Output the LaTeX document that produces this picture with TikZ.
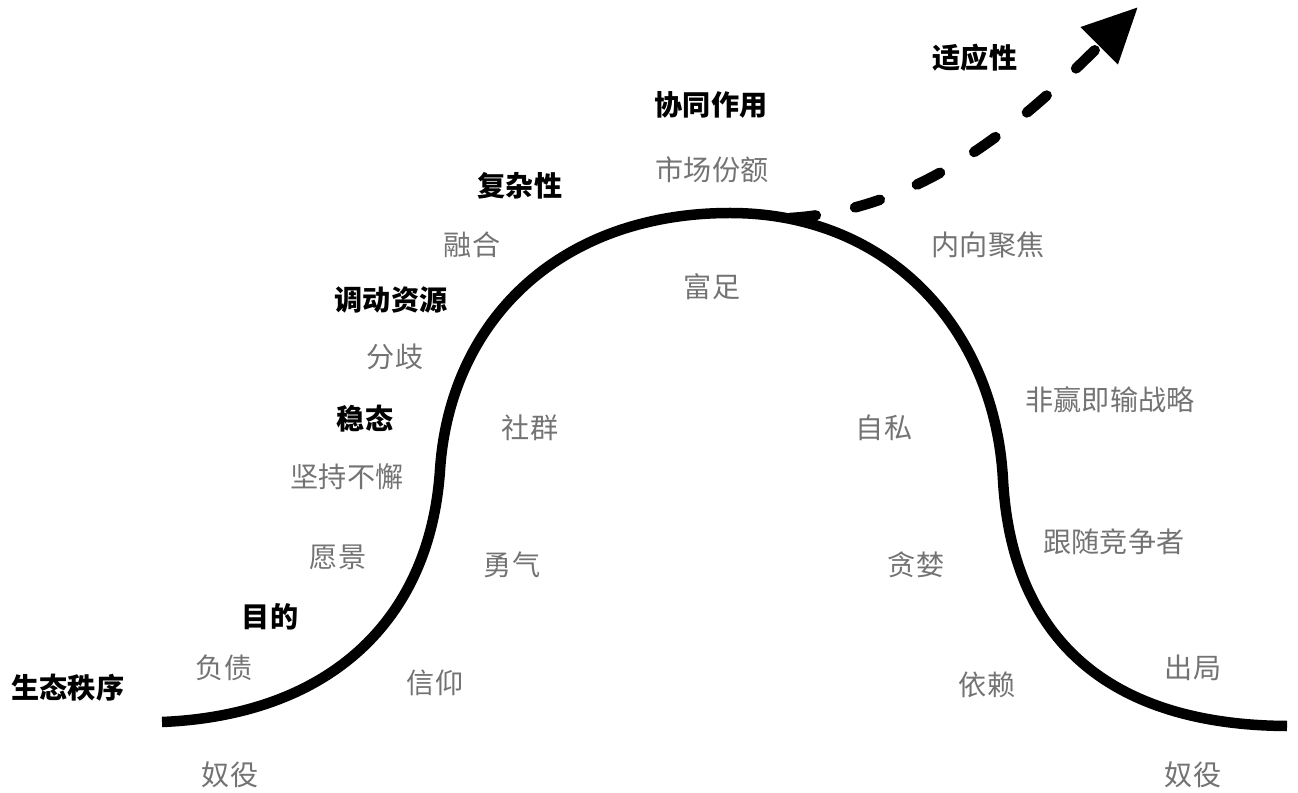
\documentclass[tikz,border=0pt]{standalone}
\usepackage{fontspec}
\newfontfamily\cjk{Noto Sans CJK SC}
\usepackage{xcolor}
\usetikzlibrary{arrows.meta}
\definecolor{traitgray}{gray}{0.45}
\tikzset{
  phaselabel/.style={
    font=\cjk\fontsize{16}{18}\selectfont\bfseries, text=black, inner sep=0pt
  },
  traitlabel/.style={
    font=\cjk\fontsize{16}{18}\selectfont, text=traitgray, inner sep=0pt
  },
  lifecurve/.style={line width=0.21cm},
  adaptarrow/.style={
    line width=0.21cm, line cap=round, dash pattern=on 0.52cm off 0.8cm,
    -{Triangle[length=1.1cm, width=1.0cm]}
  },
}

\begin{document}
\begin{tikzpicture}[x=0.02cm, y=-0.02cm]
  \useasboundingbox (0,0) rectangle (1298,793);

  % Curve points
  \coordinate (rise0) at (162,722);
  \coordinate (rise1) at (440,470);
  \coordinate (crest) at (730,213);
  \coordinate (fall1) at (1003,480);
  \coordinate (fall0) at (1287,726);
  \coordinate (branch) at (790,218);
  \coordinate (adapttip) at (1138,7);

  % Life cycle curve
  \draw[lifecurve] (rise0) .. controls (330,715) and (430,620) .. (rise1)
    .. controls (450,320) and (560,213) .. (crest)
    .. controls (890,213) and (995,330) .. (fall1)
    .. controls (1012,640) and (1110,725) .. (fall0);

  % Adaptation branch
  \draw[adaptarrow] (branch) .. controls (920,210) and (1018,127) .. (adapttip);

  % Phases
  \node[phaselabel] (order) at (68,688) {生态秩序};
  \node[phaselabel] (purpose) at (270,617) {目的};
  \node[phaselabel] (steady) at (365,419) {稳态};
  \node[phaselabel] (mobilize) at (391,300) {调动资源};
  \node[phaselabel] (complex) at (520,186) {复杂性};
  \node[phaselabel] (synergy) at (711,105) {协同作用};
  \node[phaselabel] (adapt) at (975,58) {适应性};

  % Rising side
  \node[traitlabel] (debt) at (224,668) {负债};
  \node[traitlabel] (slaveL) at (230,775) {奴役};
  \node[traitlabel] (faith) at (435,683) {信仰};
  \node[traitlabel] (vision) at (338,557) {愿景};
  \node[traitlabel] (courage) at (512,565) {勇气};
  \node[traitlabel] (persist) at (347,477) {坚持不懈};
  \node[traitlabel] (community) at (530,428) {社群};
  \node[traitlabel] (diverge) at (395,357) {分歧};
  \node[traitlabel] (merge) at (472,245) {融合};
  \node[traitlabel] (wealth) at (712,287) {富足};
  \node[traitlabel] (share) at (712,170) {市场份额};

  % Falling side
  \node[traitlabel] (inward) at (988,245) {内向聚焦};
  \node[traitlabel] (selfish) at (884,428) {自私};
  \node[traitlabel] (zerosum) at (1110,400) {非赢即输战略};
  \node[traitlabel] (follow) at (1114,542) {跟随竞争者};
  \node[traitlabel] (greed) at (916,565) {贪婪};
  \node[traitlabel] (depend) at (987,685) {依赖};
  \node[traitlabel] (out) at (1193,668) {出局};
  \node[traitlabel] (slaveR) at (1193,775) {奴役};
\end{tikzpicture}
\end{document}
